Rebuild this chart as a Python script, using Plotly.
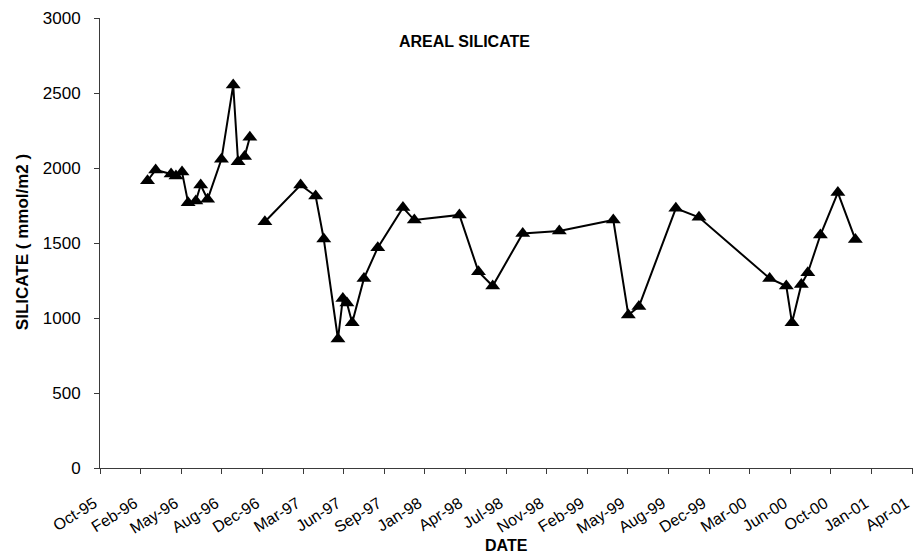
import plotly.graph_objects as go

# Sampling dates as spreadsheet day serials (days since 1899-12-30); None breaks the line
sample_serial = [
    35117, 35137, 35175, 35187, 35202, 35217, 35236, 35248, 35265, 35299,
    35328, 35340, 35356, 35369, None,
    35406, 35494, 35531, 35551, 35586, 35598, 35608, 35621, 35650, 35684,
    35746, 35774, 35885, 35932, 35967, 36041, 36131, 36264, 36301, 36327,
    36418, 36475, 36649, 36690, 36704, 36727, 36743, 36774, 36817, 36860,
]

# Areal silicate inventory (mmol/m2)
silicate = [
    1915, 1987, 1960, 1947, 1973, 1769, 1780, 1887, 1791, 2058,
    2553, 2042, 2076, 2205, None,
    1642, 1887, 1813, 1527, 860, 1130, 1100, 969, 1264, 1469,
    1736, 1653, 1687, 1309, 1213, 1564, 1580, 1653, 1020, 1076,
    1731, 1671, 1264, 1213, 969, 1224, 1302, 1553, 1836, 1524,
]

# Date axis: 100-day major unit starting at serial 35000
tick_serial = list(range(35000, 37001, 100))
tick_text = [
    "Oct-95", "Feb-96", "May-96", "Aug-96", "Dec-96", "Mar-97", "Jun-97",
    "Sep-97", "Jan-98", "Apr-98", "Jul-98", "Nov-98", "Feb-99", "May-99",
    "Aug-99", "Dec-99", "Mar-00", "Jun-00", "Oct-00", "Jan-01", "Apr-01",
]
y_ticks = [0, 500, 1000, 1500, 2000, 2500, 3000]

FONT = "Liberation Sans, Arial, sans-serif"
AXIS_COLOR = "#3a3a3a"

fig = go.Figure(
    go.Scatter(
        x=sample_serial,
        y=silicate,
        mode="lines+markers",
        connectgaps=False,
        line=dict(color="black", width=2),
        marker=dict(symbol="triangle-up", size=13, color="black"),
        showlegend=False,
    )
)

fig.update_layout(
    width=913,
    height=560,
    margin=dict(l=100, r=0, t=18, b=92),
    paper_bgcolor="white",
    plot_bgcolor="white",
    font=dict(family=FONT, size=16, color="black"),
    xaxis=dict(
        range=[tick_serial[0], tick_serial[-1] + 2],
        tickmode="array",
        tickvals=tick_serial,
        ticktext=tick_text,
        tickangle=-32,
        ticks="outside",
        ticklen=5,
        tickcolor=AXIS_COLOR,
        showline=True,
        linecolor=AXIS_COLOR,
        linewidth=1,
        showgrid=False,
        zeroline=False,
        ticklabelstandoff=14,
        ticklabelshift=-6,
        ticklabeloverflow="allow",
        tickfont=dict(family=FONT, size=16, color="black"),
    ),
    yaxis=dict(
        range=[0, 3000],
        tickmode="array",
        tickvals=y_ticks,
        ticks="outside",
        ticklen=5,
        tickcolor=AXIS_COLOR,
        showline=True,
        linecolor=AXIS_COLOR,
        linewidth=1,
        showgrid=False,
        zeroline=False,
        ticklabelstandoff=10,
        tickfont=dict(family=FONT, size=17, color="black"),
    ),
    annotations=[
        dict(
            text="<b>AREAL SILICATE</b>",
            xref="paper", yref="paper", x=0.448, y=0.947,
            xanchor="center", yanchor="middle", showarrow=False,
            font=dict(family=FONT, size=16, color="black"),
        ),
        dict(
            text="<b>SILICATE ( mmol/m2 )</b>",
            xref="paper", yref="paper", x=-0.0959, y=0.502,
            xanchor="center", yanchor="middle", textangle=-90, showarrow=False,
            font=dict(family=FONT, size=17, color="black"),
        ),
        dict(
            text="<b>DATE</b>",
            xref="paper", yref="paper", x=0.5, y=-0.173,
            xanchor="center", yanchor="middle", showarrow=False,
            font=dict(family=FONT, size=16, color="black"),
        ),
    ],
)

fig.write_html("out.html")
